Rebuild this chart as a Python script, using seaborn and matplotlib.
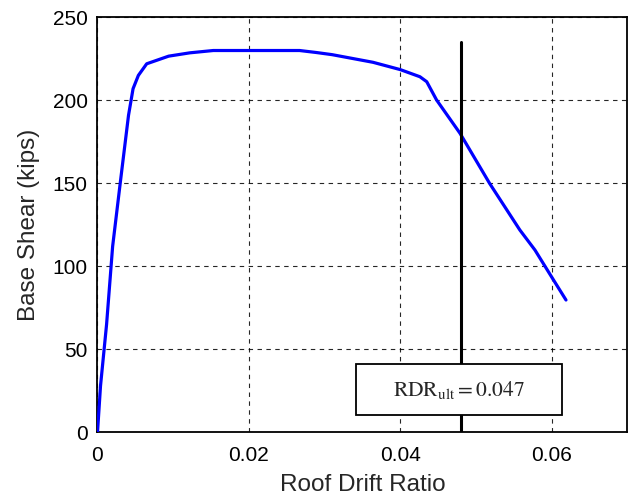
import numpy as np
import pandas as pd
import seaborn as sns
import matplotlib.pyplot as plt
from matplotlib.patches import Rectangle

# pushover curve
drift = [0.0, 0.0004, 0.0012, 0.0020, 0.0030, 0.0041, 0.0047, 0.0054, 0.0065,
         0.0094, 0.0122, 0.0153, 0.0267, 0.0289, 0.0310, 0.0364, 0.0400,
         0.0426, 0.0435, 0.0448, 0.0479, 0.0518, 0.0558, 0.0578, 0.0597, 0.0619]
shear = [0.0, 28.0, 65.0, 112.0, 150.0, 191.0, 207.0, 215.0, 222.0,
         226.6, 228.6, 230.0, 230.0, 228.8, 227.5, 222.9, 218.5,
         214.2, 211.2, 200.2, 180.1, 150.0, 121.9, 109.8, 95.8, 79.7]
rdr_line_x = [0.048, 0.048]
rdr_line_y = [1.0, 235.0]
rdr_label = r'$\mathrm{RDR}_{\mathrm{ult}} = 0.047$'

df = pd.DataFrame({'drift': drift, 'shear': shear})

sns.set_style('white')
plt.rcParams['font.family'] = ['Liberation Sans', 'DejaVu Sans']
plt.rcParams['mathtext.fontset'] = 'stix'

fig = plt.figure(figsize=(6.29, 4.96), dpi=100)
ax = fig.add_axes([0.155, 0.1284, 0.8423, 0.8367])

sns.lineplot(data=df, x='drift', y='shear', sort=False, color='#0000ff',
             linewidth=2.3, ax=ax, zorder=3)
ax.plot(rdr_line_x, rdr_line_y, color='black', linewidth=2.2, zorder=4)

ax.set_xlim(0, 0.07)
ax.set_ylim(0, 250)
ax.set_xticks([0, 0.02, 0.04, 0.06])
ax.set_xticklabels(['0', '0.02', '0.04', '0.06'])
ax.set_yticks([0, 50, 100, 150, 200, 250])
ax.grid(True, color='black', linestyle=(0, (4, 4)), linewidth=0.8, alpha=0.85)
ax.tick_params(axis='both', labelsize=15, direction='in', length=4, width=1,
               colors='black')
ax.tick_params(axis='x', pad=10)
ax.tick_params(axis='y', pad=7)
for s in ax.spines.values():
    s.set_visible(True)
    s.set_color('black')
    s.set_linewidth(1.3)

ax.set_xlabel('Roof Drift Ratio', fontsize=17.5, labelpad=6)
ax.set_ylabel('Base Shear (kips)', fontsize=17.5, labelpad=9)

# label box
ax.add_patch(Rectangle((0.4877, 0.0425), 0.3885, 0.1215, transform=ax.transAxes,
                       facecolor='white', edgecolor='black', linewidth=1.3,
                       zorder=5))
ax.text(0.682, 0.103, rdr_label, transform=ax.transAxes, ha='center',
        va='center', fontsize=15.5, zorder=6)

fig.savefig('out.png', dpi=100)
